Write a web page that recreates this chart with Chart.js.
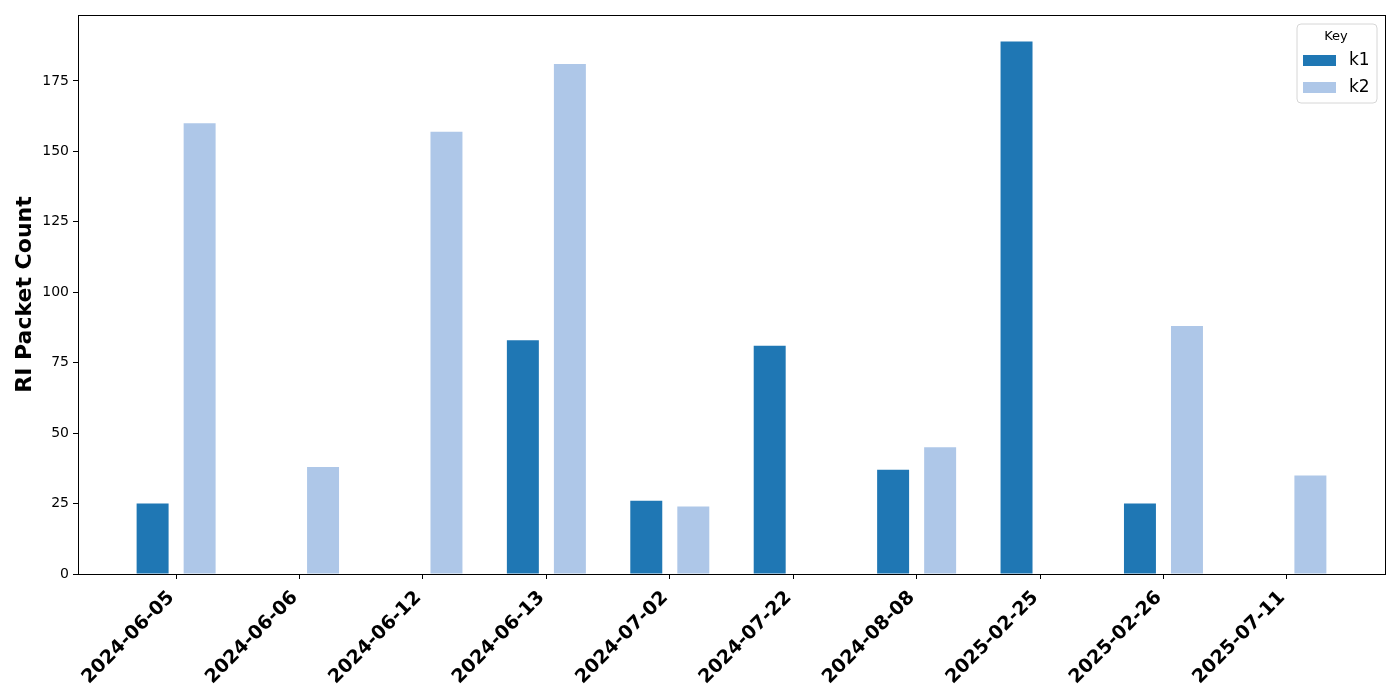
<!DOCTYPE html>
<html>
<head>
<meta charset="utf-8">
<script src="https://cdn.jsdelivr.net/npm/chart.js@4"></script>
<style>
html,body{margin:0;padding:0;background:#fff;}
#wrap{width:1400px;height:700px;}
</style>
</head>
<body>
<div id="wrap"><canvas id="c" width="1400" height="700"></canvas></div>
<script>
const categories = ["2024-06-05","2024-06-06","2024-06-12","2024-06-13","2024-07-02","2024-07-22","2024-08-08","2025-02-25","2025-02-26","2025-07-11"];
const k1Values = [25, 0, 0, 83, 26, 81, 37, 189, 25, 0];
const k2Values = [160, 38, 157, 181, 24, 0, 45, 0, 88, 35];
const yTicks = [0, 25, 50, 75, 100, 125, 150, 175];
const seriesNames = ["k1", "k2"];
const seriesColors = ["#1f77b4", "#aec7e8"];

const toPts = arr => arr.map((v, i) => ({x: i, y: v}));

const frameAndLegend = {
  id: 'frameAndLegend',
  afterDraw(chart) {
    const ctx = chart.ctx;
    const a = chart.chartArea;
    ctx.save();
    ctx.strokeStyle = '#000';
    ctx.lineWidth = 1;
    ctx.strokeRect(Math.round(a.left) + 0.5, Math.round(a.top) + 0.5, Math.round(a.right - a.left), Math.round(a.bottom - a.top));
    // legend
    const bx = 1297, by = 24, bw = 80, bh = 79, r = 4;
    ctx.beginPath();
    ctx.moveTo(bx + r, by);
    ctx.lineTo(bx + bw - r, by);
    ctx.quadraticCurveTo(bx + bw, by, bx + bw, by + r);
    ctx.lineTo(bx + bw, by + bh - r);
    ctx.quadraticCurveTo(bx + bw, by + bh, bx + bw - r, by + bh);
    ctx.lineTo(bx + r, by + bh);
    ctx.quadraticCurveTo(bx, by + bh, bx, by + bh - r);
    ctx.lineTo(bx, by + r);
    ctx.quadraticCurveTo(bx, by, bx + r, by);
    ctx.closePath();
    ctx.fillStyle = 'rgba(255,255,255,0.8)';
    ctx.fill();
    ctx.strokeStyle = '#d6d6d6';
    ctx.stroke();
    ctx.fillStyle = '#000';
    ctx.font = '13px "DejaVu Sans"';
    ctx.textAlign = 'center';
    ctx.textBaseline = 'middle';
    ctx.fillText('Key', bx + bw / 2 - 1, 37);
    chart.data.datasets.forEach((ds, i) => {
      const yy = 60 + i * 27;
      ctx.fillStyle = ds.backgroundColor;
      ctx.fillRect(1303, yy - 5, 33, 11);
      ctx.fillStyle = '#000';
      ctx.font = '17px "DejaVu Sans"';
      ctx.textAlign = 'left';
      ctx.fillText(ds.label, 1349, yy + 1);
    });
    ctx.restore();
  }
};

new Chart(document.getElementById('c'), {
  type: 'bar',
  data: {
    datasets: [
      {label: seriesNames[0], data: toPts(k1Values), backgroundColor: seriesColors[0], borderWidth: 0},
      {label: seriesNames[1], data: toPts(k2Values), backgroundColor: seriesColors[1], borderWidth: 0}
    ]
  },
  options: {
    responsive: false,
    animation: false,
    devicePixelRatio: 1,
    categoryPercentage: 0.762,
    barPercentage: 0.68,
    layout: {padding: {top: 15, right: 15, left: 0, bottom: 0}},
    plugins: {legend: {display: false}, tooltip: {enabled: false}},
    scales: {
      x: {
        type: 'linear',
        min: -0.795,
        max: 9.795,
        offset: false,
        afterBuildTicks: s => { s.ticks = categories.map((_, i) => ({value: i})); },
        afterFit: s => { s.height = 126; },
        grid: {offset: false, drawOnChartArea: false, drawTicks: true, tickLength: 5, color: '#000'},
        border: {display: true, color: '#000'},
        ticks: {
          autoSkip: false,
          maxRotation: 45,
          minRotation: 45,
          padding: 3,
          color: '#000',
          font: {family: '"DejaVu Sans"', size: 19, weight: 'bold'},
          callback: v => (categories[v] ?? '') + ' '
        }
      },
      y: {
        min: 0,
        max: 198.4,
        afterBuildTicks: s => { s.ticks = yTicks.map(v => ({value: v})); },
        afterFit: s => { s.width = 78; },
        grid: {drawOnChartArea: false, drawTicks: true, tickLength: 5, color: '#000'},
        border: {display: true, color: '#000'},
        ticks: {
          padding: 4,
          color: '#000',
          font: {family: '"DejaVu Sans"', size: 14}
        },
        title: {
          display: true,
          text: 'RI Packet Count',
          color: '#000',
          padding: {top: 12, bottom: 6},
          font: {family: '"DejaVu Sans"', size: 22, weight: 'bold'}
        }
      }
    }
  },
  plugins: [frameAndLegend]
});
</script>
</body>
</html>
